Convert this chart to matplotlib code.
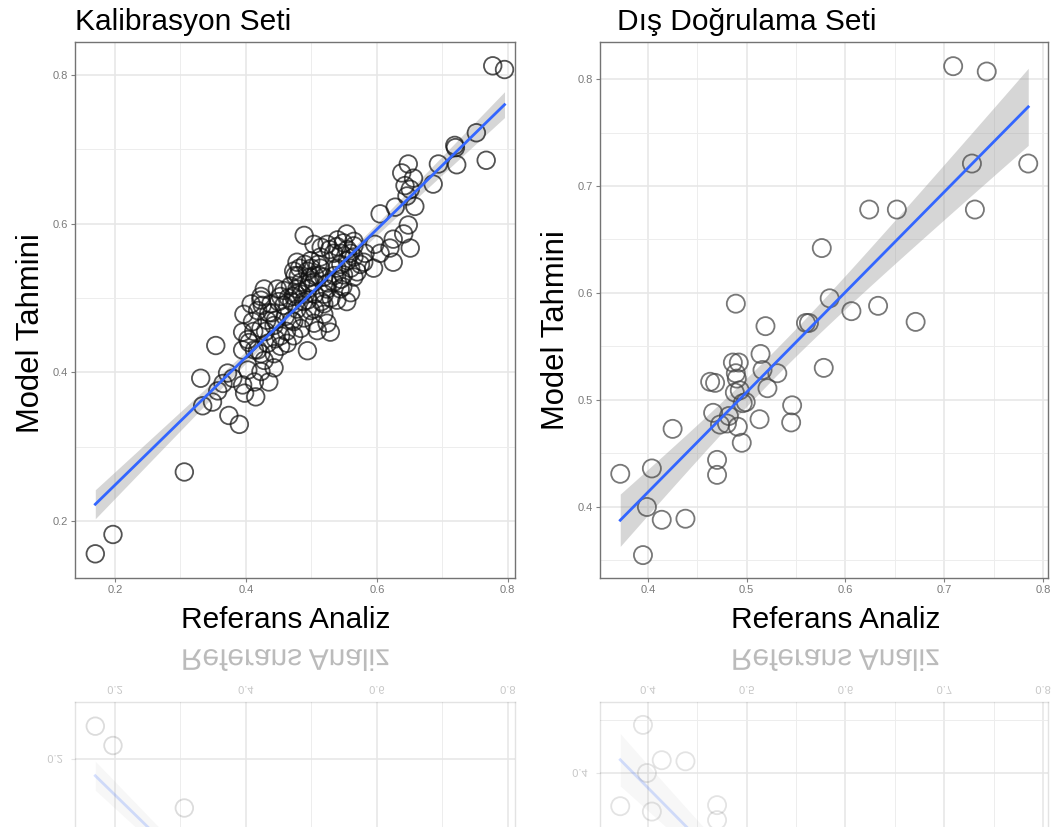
import numpy as np
import matplotlib
matplotlib.use('Agg')
import matplotlib.pyplot as plt
from matplotlib.ticker import FixedLocator
from matplotlib.textpath import TextPath
from matplotlib.patches import PathPatch
from matplotlib.font_manager import FontProperties
from matplotlib.transforms import Affine2D

plt.rcParams['font.family'] = ['Liberation Sans', 'DejaVu Sans']

# ---------------- data ----------------
cal_x = [0.170, 0.197, 0.306, 0.331, 0.354, 0.334, 0.349, 0.357, 0.372, 0.374,
         0.390, 0.395, 0.415, 0.435, 0.494, 0.529, 0.777, 0.795, 0.767, 0.752,
         0.719, 0.722, 0.686, 0.694, 0.648, 0.638, 0.643, 0.656, 0.651, 0.646,
         0.658, 0.628, 0.605, 0.648, 0.641, 0.651, 0.625, 0.620, 0.605, 0.625,
         0.595, 0.597, 0.582,
         0.489, 0.504, 0.524, 0.539, 0.554, 0.549, 0.565, 0.560, 0.534, 0.514,
         0.478, 0.499, 0.473, 0.494, 0.514, 0.539, 0.560, 0.575, 0.549, 0.565,
         0.534, 0.519, 0.504, 0.484, 0.468, 0.478, 0.494, 0.524, 0.544, 0.560,
         0.554, 0.539, 0.519, 0.494, 0.473, 0.453, 0.423, 0.438, 0.458, 0.478,
         0.499, 0.519, 0.489, 0.473, 0.504, 0.524, 0.397, 0.418, 0.435, 0.410,
         0.395, 0.403, 0.423, 0.443, 0.453, 0.433, 0.413, 0.395, 0.423, 0.443,
         0.463, 0.473, 0.443, 0.423, 0.403, 0.413, 0.398, 0.428, 0.453, 0.484,
         0.509, 0.423, 0.408, 0.428, 0.448,
         0.485, 0.497, 0.505, 0.470, 0.512, 0.480, 0.530, 0.545, 0.555, 0.515,
         0.545, 0.565, 0.460, 0.445, 0.430, 0.720, 0.365, 0.380,
         0.475, 0.482, 0.490, 0.500, 0.505, 0.488, 0.476, 0.465, 0.458, 0.450,
         0.440, 0.432, 0.425, 0.412, 0.405, 0.418, 0.445, 0.462, 0.470, 0.505,
         0.515, 0.525, 0.535, 0.545, 0.555, 0.565, 0.540, 0.528, 0.510, 0.498,
         0.520, 0.548, 0.570, 0.580]
cal_y = [0.156, 0.182, 0.266, 0.392, 0.436, 0.355, 0.360, 0.375, 0.399, 0.342,
         0.330, 0.383, 0.367, 0.387, 0.429, 0.454, 0.812, 0.807, 0.685, 0.722,
         0.705, 0.679, 0.653, 0.680, 0.680, 0.668, 0.651, 0.661, 0.646, 0.637,
         0.623, 0.622, 0.613, 0.598, 0.586, 0.567, 0.579, 0.567, 0.560, 0.548,
         0.540, 0.572, 0.560,
         0.584, 0.572, 0.572, 0.569, 0.586, 0.574, 0.576, 0.560, 0.560, 0.555,
         0.548, 0.550, 0.536, 0.536, 0.540, 0.540, 0.540, 0.545, 0.531, 0.528,
         0.521, 0.528, 0.521, 0.521, 0.516, 0.512, 0.512, 0.512, 0.512, 0.507,
         0.495, 0.497, 0.492, 0.497, 0.502, 0.502, 0.502, 0.492, 0.490, 0.485,
         0.483, 0.478, 0.473, 0.468, 0.466, 0.466, 0.478, 0.483, 0.480, 0.468,
         0.454, 0.444, 0.459, 0.463, 0.449, 0.439, 0.430, 0.430, 0.425, 0.425,
         0.439, 0.449, 0.406, 0.401, 0.403, 0.387, 0.372, 0.416, 0.435, 0.459,
         0.456, 0.497, 0.492, 0.512, 0.512,
         0.505, 0.520, 0.505, 0.495, 0.530, 0.530, 0.500, 0.525, 0.550, 0.568,
         0.560, 0.555, 0.475, 0.470, 0.455, 0.702, 0.385, 0.392,
         0.530, 0.540, 0.545, 0.540, 0.530, 0.495, 0.505, 0.500, 0.510, 0.495,
         0.480, 0.470, 0.490, 0.455, 0.440, 0.430, 0.445, 0.455, 0.470, 0.485,
         0.495, 0.520, 0.530, 0.545, 0.565, 0.570, 0.578, 0.565, 0.545, 0.528,
         0.505, 0.515, 0.535, 0.548]

val_x = [0.372, 0.404, 0.399, 0.414, 0.438, 0.395, 0.425, 0.470, 0.470, 0.466,
         0.463, 0.468, 0.473, 0.480, 0.482, 0.491, 0.495, 0.488, 0.493, 0.496,
         0.499, 0.486, 0.492, 0.489, 0.490, 0.489, 0.513, 0.514, 0.516, 0.521,
         0.519, 0.531, 0.546, 0.545, 0.560, 0.563, 0.578, 0.576, 0.584, 0.606,
         0.633, 0.671, 0.624, 0.652, 0.709, 0.743, 0.728, 0.785, 0.731]
val_y = [0.431, 0.436, 0.400, 0.388, 0.389, 0.355, 0.473, 0.444, 0.430, 0.488,
         0.517, 0.516, 0.477, 0.478, 0.485, 0.475, 0.460, 0.507, 0.509, 0.497,
         0.498, 0.535, 0.535, 0.525, 0.520, 0.590, 0.482, 0.543, 0.528, 0.511,
         0.569, 0.525, 0.495, 0.479, 0.572, 0.572, 0.530, 0.642, 0.595, 0.583,
         0.588, 0.573, 0.678, 0.678, 0.812, 0.807, 0.721, 0.721, 0.678]

cal_title = "Kalibrasyon Seti"
val_title = "Dış Doğrulama Seti"
x_label = "Referans Analiz"
y_label = "Model Tahmini"

cal_major = [0.2, 0.4, 0.6, 0.8]
cal_minor = [0.3, 0.5, 0.7]
val_major = [0.4, 0.5, 0.6, 0.7, 0.8]
val_xminor = [0.45, 0.55, 0.65, 0.75]
val_yminor = [0.35, 0.45, 0.55, 0.65, 0.75]

# ---------------- layout ----------------
W, H = 1059, 827
fig = plt.figure(figsize=(W / 100, H / 100), dpi=100)
fig.patch.set_facecolor('white')


def rect(l, t, r, b):
    return [l / W, 1 - b / H, (r - l) / W, (b - t) / H]


def lm_band(x, y, tval):
    x = np.asarray(x); y = np.asarray(y)
    n = len(x)
    b, a = np.polyfit(x, y, 1)
    xs = np.linspace(x.min(), x.max(), 80)
    yhat = a + b * xs
    resid = y - (a + b * x)
    s = np.sqrt(np.sum(resid ** 2) / (n - 2))
    sxx = np.sum((x - x.mean()) ** 2)
    se = s * np.sqrt(1 / n + (xs - x.mean()) ** 2 / sxx)
    return xs, yhat, yhat - tval * se, yhat + tval * se


def panel(ax, x, y, xlim, ylim, xmaj, ymaj, xmin, ymin, tval, mcol, msize,
          fade=1.0, labels=True):
    ax.set_xlim(*xlim)
    ax.set_ylim(*ylim)
    ax.xaxis.set_major_locator(FixedLocator(xmaj))
    ax.yaxis.set_major_locator(FixedLocator(ymaj))
    ax.xaxis.set_minor_locator(FixedLocator(xmin))
    ax.yaxis.set_minor_locator(FixedLocator(ymin))
    ax.set_axisbelow(True)
    ax.grid(which='major', color=(0.90, 0.90, 0.90, fade), lw=1.1)
    ax.grid(which='minor', color=(0.93, 0.93, 0.93, fade), lw=0.7)
    for sp in ax.spines.values():
        sp.set_color((0.45, 0.45, 0.45, fade))
        sp.set_linewidth(1.0)
    ax.tick_params(which='major', length=3, width=0.8,
                   color=(0.5, 0.5, 0.5, fade), labelsize=8,
                   labelcolor='#7a7a7a', pad=2)
    ax.tick_params(which='minor', length=0)
    if not labels:
        ax.tick_params(labelbottom=False, labelleft=False)
    xs, yh, lo, hi = lm_band(x, y, tval)
    ax.fill_between(xs, lo, hi, color='#999999', alpha=0.4 * fade, lw=0,
                    zorder=2)
    ax.scatter(x, y, s=msize, facecolors='none', edgecolors=mcol,
               linewidths=1.3, alpha=0.72 * fade, zorder=3)
    ax.plot(xs, yh, color='#3366FF', lw=2.0, alpha=fade, zorder=4)


cal_xlim = (0.139, 0.811)
cal_ylim = (0.1235, 0.844)
val_xlim = (0.3515, 0.805)
val_ylim = (0.3336, 0.8346)

ax1 = fig.add_axes(rect(75, 42, 515, 578))
panel(ax1, cal_x, cal_y, cal_xlim, cal_ylim, cal_major, cal_major,
      cal_minor, cal_minor, 1.98, '#111111', 160)
ax2 = fig.add_axes(rect(600, 42, 1048, 578))
panel(ax2, val_x, val_y, val_xlim, val_ylim, val_major, val_major,
      val_xminor, val_yminor, 2.01, '#444444', 170)

# reflections (mirrored about y = 640 px)
r1 = fig.add_axes(rect(75, 702, 515, 1238))
panel(r1, cal_x, cal_y, cal_xlim, (cal_ylim[1], cal_ylim[0]),
      cal_major, cal_major, cal_minor, cal_minor, 1.98, '#111111', 160,
      fade=0.2, labels=False)
r2 = fig.add_axes(rect(600, 702, 1048, 1238))
panel(r2, val_x, val_y, val_xlim, (val_ylim[1], val_ylim[0]),
      val_major, val_major, val_xminor, val_yminor, 2.01, '#444444', 170,
      fade=0.2, labels=False)

# titles and axis labels
fig.text(75 / W, 1 - 22 / H, cal_title, fontsize=21.5, va='center', ha='left')
fig.text(617 / W, 1 - 22 / H, val_title, fontsize=21.5, va='center', ha='left')
fig.text(286 / W, 1 - 620 / H, x_label, fontsize=21.5, va='center', ha='center')
fig.text(836 / W, 1 - 620 / H, x_label, fontsize=21.5, va='center', ha='center')
fig.text(31 / W, 1 - 333 / H, y_label, fontsize=22.3, va='center', ha='center',
         rotation=90)
fig.text(556 / W, 1 - 330 / H, y_label, fontsize=22.3, va='center', ha='center',
         rotation=90)


# mirrored (reflected) text
def mirror_text(s, cx, cy, size, alpha):
    tp = TextPath((0, 0), s, size=size,
                  prop=FontProperties(family='Liberation Sans'))
    ext = tp.get_extents()
    k = 100 / 72
    tr = (Affine2D().translate(-(ext.x0 + ext.x1) / 2, -(ext.y0 + ext.y1) / 2)
          .scale(k, -k).translate(cx, H - cy))
    fig.add_artist(PathPatch(tp, transform=tr, facecolor=(0.2, 0.2, 0.2, alpha),
                             lw=0))


mirror_text(x_label, 286, 660, 21.5, 0.33)
mirror_text(x_label, 836, 660, 21.5, 0.33)


def px_x(v, lim, l, r):
    return l + (v - lim[0]) / (lim[1] - lim[0]) * (r - l)


for v in cal_major:
    mirror_text(f"{v:.1f}", px_x(v, cal_xlim, 75, 515), 690, 8, 0.28)
for v in val_major:
    mirror_text(f"{v:.1f}", px_x(v, val_xlim, 600, 1048), 690, 8, 0.28)
mirror_text("0.2", 55, 759, 8, 0.28)
mirror_text("0.4", 580, 773, 8, 0.28)

fig.savefig('out.png', dpi=100, facecolor='white')
